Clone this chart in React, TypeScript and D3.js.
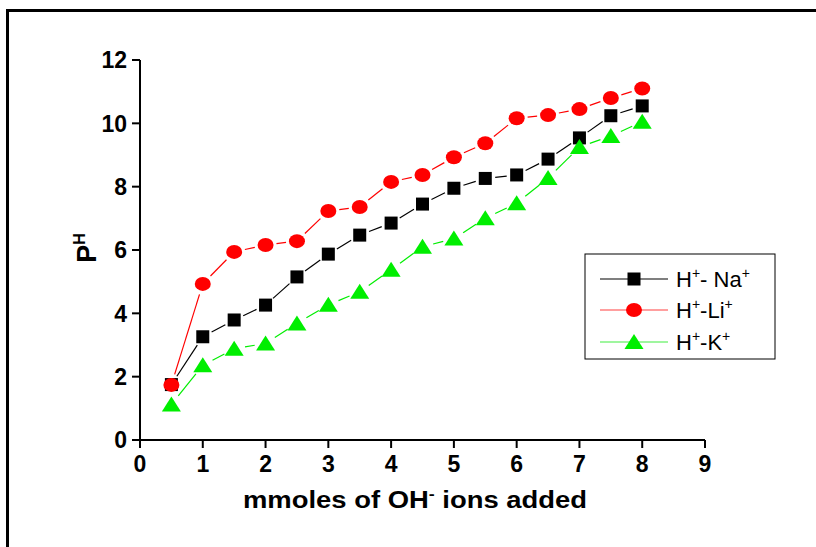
import React from "react";
import * as d3 from "d3";

const xValues = [0.5, 1, 1.5, 2, 2.5, 3, 3.5, 4, 4.5, 5, 5.5, 6, 6.5, 7, 7.5, 8];
const naValues = [1.75, 3.26, 3.79, 4.26, 5.15, 5.87, 6.47, 6.85, 7.45, 7.95, 8.26, 8.37, 8.87, 9.54, 10.24, 10.55];
const liValues = [1.74, 4.93, 5.94, 6.16, 6.28, 7.23, 7.36, 8.15, 8.37, 8.93, 9.37, 10.16, 10.26, 10.45, 10.8, 11.1];
const kValues = [1.12, 2.36, 2.88, 3.05, 3.68, 4.27, 4.68, 5.38, 6.1, 6.36, 7.0, 7.48, 8.27, 9.25, 9.6, 10.05];
const xTicks = [0, 1, 2, 3, 4, 5, 6, 7, 8, 9];
const yTicks = [0, 2, 4, 6, 8, 10, 12];

const W = 816, H = 547;
const x = d3.scaleLinear().domain([0, 9]).range([140, 705]);
const y = d3.scaleLinear().domain([0, 12]).range([440, 60]);

type Kind = "square" | "circle" | "triangle";

function Marker({ kind, cx, cy, color }: { kind: Kind; cx: number; cy: number; color: string }) {
  if (kind === "square") return <rect x={cx - 6.5} y={cy - 6.5} width={13} height={13} fill={color} />;
  if (kind === "circle") return <ellipse cx={cx} cy={cy} rx={8} ry={7} fill={color} />;
  return <path d={`M${cx},${cy - 8}L${cx + 9.5},${cy + 7}L${cx - 9.5},${cy + 7}Z`} fill={color} />;
}

function Series({ vals, kind, color, gap }: { vals: number[]; kind: Kind; color: string; gap: number }) {
  const pts = xValues.map((xv, i) => [x(xv), y(vals[i])] as [number, number]);
  const segs: JSX.Element[] = [];
  for (let i = 0; i < pts.length - 1; i++) {
    const [x1, y1] = pts[i];
    const [x2, y2] = pts[i + 1];
    const dx = x2 - x1, dy = y2 - y1;
    const len = Math.hypot(dx, dy);
    if (len <= 2 * gap) continue;
    const ux = dx / len, uy = dy / len;
    segs.push(
      <line key={i} x1={x1 + ux * gap} y1={y1 + uy * gap} x2={x2 - ux * gap} y2={y2 - uy * gap} stroke={color} strokeWidth={1.2} />
    );
  }
  return (
    <g>
      {segs}
      {pts.map(([cx, cy], i) => <Marker key={i} kind={kind} cx={cx} cy={cy} color={color} />)}
    </g>
  );
}

export default function App() {
  const font = "'Liberation Sans', Arial, sans-serif";
  const legend = [
    { kind: "square" as Kind, color: "#000000", line: "#000000", label: "- Na", y: 279 },
    { kind: "circle" as Kind, color: "#ff0000", line: "#ff4040", label: "-Li", y: 310 },
    { kind: "triangle" as Kind, color: "#00ee00", line: "#40ee40", label: "-K", y: 342 },
  ];
  return (
    <svg width={W} height={H} style={{ position: "absolute", left: 0, top: 0, background: "#fff" }} fontFamily={font}>
      <rect x={0} y={0} width={W} height={H} fill="#fff" />
      {/* frame */}
      <path d={`M7.5,${H + 5}V10.5H${W + 5}`} fill="none" stroke="#000" strokeWidth={3} />
      {/* series */}
      <Series vals={naValues} kind="square" color="#000000" gap={10} />
      <Series vals={liValues} kind="circle" color="#ff0000" gap={11} />
      <Series vals={kValues} kind="triangle" color="#00ee00" gap={11} />
      {/* axes */}
      <line x1={140} y1={y(12)} x2={140} y2={441} stroke="#000" strokeWidth={2} />
      <line x1={139} y1={440} x2={x(9)} y2={440} stroke="#000" strokeWidth={2} />
      {yTicks.map((t) => (
        <g key={"y" + t}>
          <line x1={132} x2={140} y1={y(t)} y2={y(t)} stroke="#000" strokeWidth={2} />
          <text x={127} y={y(t)} dy="0.36em" textAnchor="end" fontSize={23} fontWeight="bold">{t}</text>
        </g>
      ))}
      {xTicks.map((t) => (
        <g key={"x" + t}>
          <line x1={x(t)} x2={x(t)} y1={440} y2={448} stroke="#000" strokeWidth={2} />
          <text x={x(t)} y={472} textAnchor="middle" fontSize={23} fontWeight="bold">{t}</text>
        </g>
      ))}
      {/* axis titles */}
      <text x={243} y={508} fontSize={23} fontWeight="bold" textLength={344} lengthAdjust="spacingAndGlyphs">
        mmoles of OH<tspan dy={-9} fontSize={15}>-</tspan><tspan dy={9}> ions added</tspan>
      </text>
      <text transform="translate(96,248) rotate(-90)" textAnchor="middle" fontSize={27} fontWeight="bold">
        P<tspan dy={-11} fontSize={16}>H</tspan>
      </text>
      {/* legend */}
      <rect x={585} y={254} width={190} height={105} fill="#fff" stroke="#000" strokeWidth={1} />
      {legend.map((l) => (
        <g key={l.label}>
          <line x1={600} x2={668} y1={l.y} y2={l.y} stroke={l.line} strokeWidth={1.2} />
          <Marker kind={l.kind} cx={634} cy={l.y} color={l.color} />
          <text x={676} y={l.y + 8} fontSize={22}>
            H<tspan dy={-9} fontSize={14}>+</tspan><tspan dy={9}>{l.label}</tspan><tspan dy={-9} fontSize={14}>+</tspan>
          </text>
        </g>
      ))}
    </svg>
  );
}
